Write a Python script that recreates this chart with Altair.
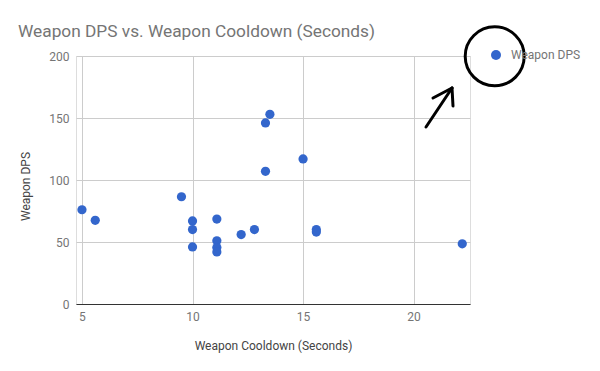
import altair as alt
import pandas as pd

cooldown = [5.0, 5.6, 9.5, 10.0, 10.0, 10.0, 11.1, 11.1, 11.1, 11.1, 12.2, 12.8,
            13.3, 13.5, 13.3, 15.0, 15.6, 15.6, 22.2]
dps = [76, 67.5, 86.5, 67, 60, 46, 68.5, 51, 45.5, 42, 56, 60,
       146, 153, 107, 117, 60, 58, 48.5]
series_name = "Weapon DPS"
x_ticks = [5, 10, 15, 20]
y_ticks = [0, 50, 100, 150, 200]

df = pd.DataFrame({"cooldown": cooldown, "dps": dps, "series": series_name})

FONT = "Roboto"
BLUE = "#3366cc"
GRAY = "#757575"

points = alt.Chart(df).mark_point(filled=True, opacity=1, size=85, shape="circle").encode(
    x=alt.X("cooldown:Q",
            scale=alt.Scale(domain=[4.73, 22.55], nice=False, zero=False),
            axis=alt.Axis(values=x_ticks, title="Weapon Cooldown (Seconds)",
                          grid=True, gridColor="#cccccc", ticks=False,
                          domain=True, domainColor="#333333", domainWidth=1.2,
                          labelFont=FONT, labelFontSize=12, labelColor=GRAY, labelPadding=7,
                          titleFont=FONT, titleFontSize=12, titleFontWeight="normal",
                          titleColor="#444444", titleX=197, titleY=41,
                          titleBaseline="middle", titleAnchor="middle")),
    y=alt.Y("dps:Q",
            scale=alt.Scale(domain=[0, 200], nice=False),
            axis=alt.Axis(values=y_ticks, title="Weapon DPS",
                          grid=True, gridColor="#cccccc", ticks=False, domain=False,
                          labelFont=FONT, labelFontSize=12, labelColor=GRAY, labelPadding=7,
                          titleFont=FONT, titleFontSize=12, titleFontWeight="normal",
                          titleColor="#444444", titleX=-51, titleY=130,
                          titleBaseline="middle", titleAngle=-90)),
    color=alt.Color("series:N", scale=alt.Scale(range=[BLUE]),
                    legend=alt.Legend(title=None, orient="none", legendX=414, legendY=-7,
                                      symbolType="circle", symbolSize=100,
                                      symbolStrokeWidth=0, padding=0,
                                      labelFont=FONT, labelFontSize=12, labelColor=GRAY,
                                      labelOffset=9)),
)

one = alt.InlineData(values=[{"k": 1}])

circle_note = alt.Chart(one).mark_point(shape="circle", filled=False, stroke="black",
                                        strokeWidth=3, size=3481, opacity=1).encode(
    x=alt.value(418.7), y=alt.value(0.3))

shaft = alt.Chart(one).mark_rule(color="black", strokeWidth=3, strokeCap="round").encode(
    x=alt.value(350), y=alt.value(71), x2=alt.value(376), y2=alt.value(32))
head1 = alt.Chart(one).mark_rule(color="black", strokeWidth=3, strokeCap="round").encode(
    x=alt.value(357), y=alt.value(42), x2=alt.value(376), y2=alt.value(32))
head2 = alt.Chart(one).mark_rule(color="black", strokeWidth=3, strokeCap="round").encode(
    x=alt.value(376), y=alt.value(32), x2=alt.value(377), y2=alt.value(50))

chart = alt.layer(points, circle_note, shaft, head1, head2).properties(
    width=394, height=248,
    title=alt.TitleParams("Weapon DPS vs. Weapon Cooldown (Seconds)", anchor="start",
                          frame="group", font=FONT, fontSize=17.3, fontWeight="normal",
                          color=GRAY, dx=-58, dy=37, offset=0, baseline="bottom"),
    autosize=alt.AutoSizeParams(type="none"),
    padding={"left": 76, "top": 56, "right": 130, "bottom": 67},
).configure_view(stroke=None).configure(background="white")

chart.save("out.html", embed_options={"renderer": "svg", "actions": False})
